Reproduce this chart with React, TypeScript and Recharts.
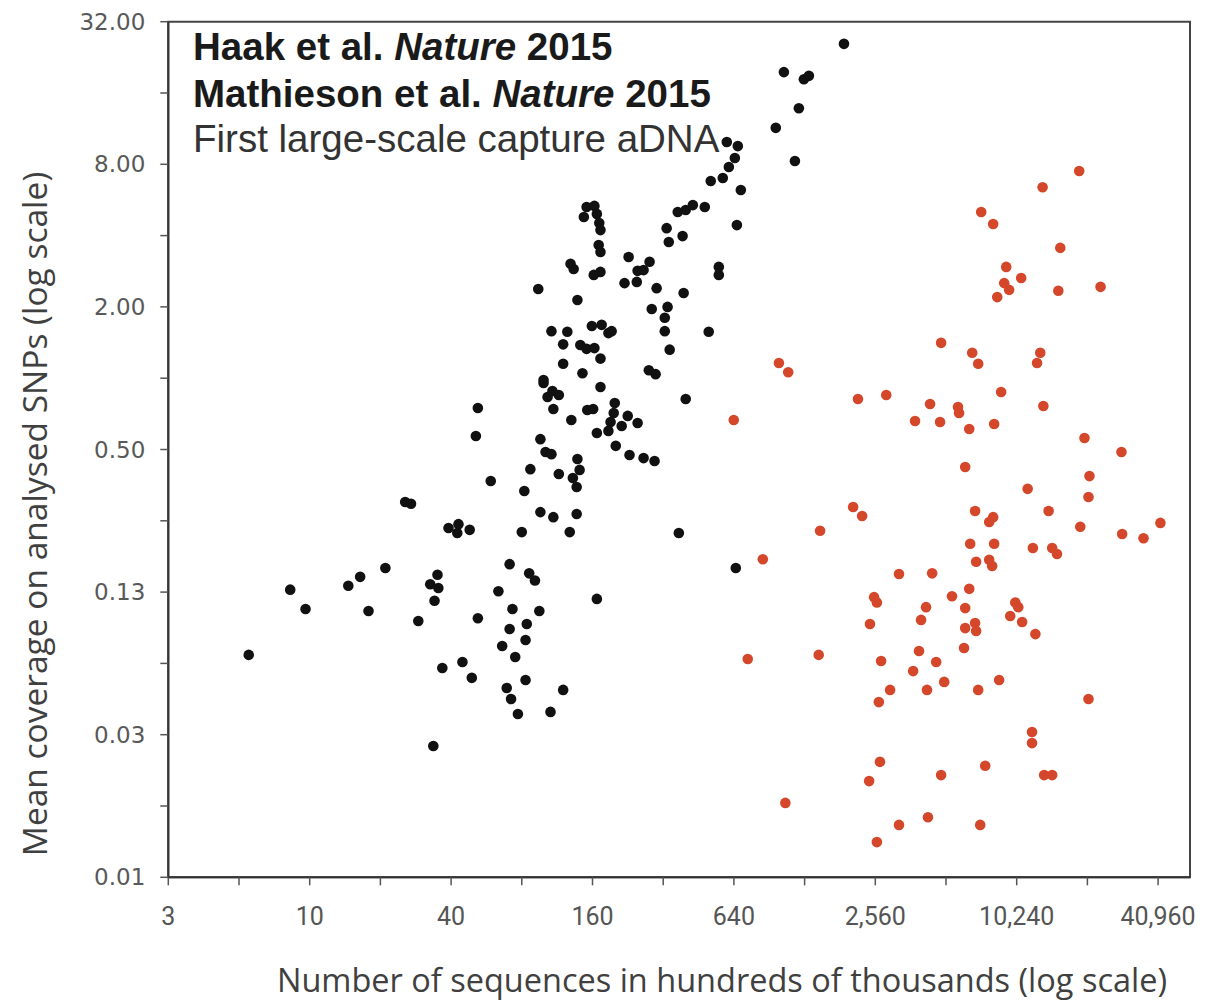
import { ScatterChart, Scatter, XAxis, YAxis, ReferenceArea } from 'recharts';

// sequences (hundreds of thousands), mean coverage
const shotgunPoints: [number, number][] = [
  [1883, 25.8], [1045, 19.6], [1271, 18.3], [1335, 18.9], [1210, 13.8], [965, 11.4],
  [1164, 8.26], [597, 9.94], [665, 9.55], [646, 8.5], [609, 7.79], [574, 7.0],
  [510, 6.8], [685, 6.23], [481, 5.28], [428, 5.38], [399, 5.13], [369, 5.03],
  [659, 4.43], [331, 4.3], [338, 3.76], [387, 3.98], [151, 5.28], [163, 5.34],
  [147, 4.79], [167, 4.94], [171, 4.52], [173, 4.22], [170, 3.65], [173, 3.41],
  [129, 3.04], [133, 2.89], [162, 2.73], [173, 2.81], [228, 3.25], [280, 3.1],
  [249, 2.84], [264, 2.86], [219, 2.52], [247, 2.55], [300, 2.4], [391, 2.29],
  [552, 2.95], [552, 2.73], [94, 2.38], [138, 2.14], [286, 1.96], [334, 2.0],
  [325, 1.8], [325, 1.58], [500, 1.57], [341, 1.32], [107, 1.58], [125, 1.57],
  [159, 1.66], [175, 1.68], [187, 1.55], [193, 1.58], [120, 1.39], [142, 1.38],
  [151, 1.33], [163, 1.34], [173, 1.21], [120, 1.15], [145, 1.05], [99, 0.983],
  [99, 0.955], [108, 0.883], [115, 0.849], [103, 0.833], [109, 0.741], [173, 0.918],
  [130, 0.666], [152, 0.734], [161, 0.741], [199, 0.786], [197, 0.713], [191, 0.653],
  [226, 0.693], [249, 0.647], [213, 0.628], [187, 0.599], [167, 0.587], [278, 1.08],
  [297, 1.04], [399, 0.817], [96, 0.553], [101, 0.488], [107, 0.478], [201, 0.518],
  [230, 0.474], [264, 0.46], [294, 0.447], [87, 0.413], [115, 0.394], [138, 0.456],
  [141, 0.41], [132, 0.379], [137, 0.347], [82, 0.334], [96, 0.272], [109, 0.259],
  [137, 0.267], [80, 0.224], [128, 0.224], [373, 0.222], [71, 0.164], [86, 0.15],
  [91, 0.14], [652, 0.158], [52, 0.748], [51, 0.57], [59, 0.368], [25.5, 0.3],
  [27, 0.295], [39, 0.233], [43, 0.242], [42.5, 0.222], [48, 0.229], [21, 0.158],
  [16.4, 0.145], [14.6, 0.133], [8.26, 0.128], [35, 0.148], [32.6, 0.135], [35.3, 0.13],
  [63.6, 0.126], [167, 0.117], [73, 0.106], [95, 0.104], [84, 0.0917], [71, 0.0873],
  [83, 0.0785], [66, 0.074], [75, 0.0665], [83, 0.0532], [69, 0.0492], [72, 0.0442],
  [120, 0.0483], [77, 0.0382], [106, 0.039], [9.6, 0.106], [17.8, 0.104], [34, 0.115],
  [29, 0.0944], [52, 0.097], [5.5, 0.0679], [44.7, 0.0634], [36.7, 0.0598], [49, 0.0543],
  [33.6, 0.028],
];

const capturePoints: [number, number][] = [
  [18900, 7.5], [13200, 6.4], [7230, 5.03], [8130, 4.48], [15700, 3.55], [9240, 2.95],
  [10700, 2.65], [9060, 2.52], [9510, 2.36], [8460, 2.2], [15400, 2.34], [23300, 2.43],
  [995, 1.16], [1090, 1.06], [639, 0.666], [1490, 0.227], [850, 0.172],
  [4880, 1.41], [6620, 1.28], [7020, 1.15], [12900, 1.28], [12500, 1.16], [8790, 0.874],
  [2160, 0.817], [2850, 0.849], [4380, 0.778], [5760, 0.756], [5820, 0.713], [13300, 0.763],
  [3780, 0.66], [4830, 0.653], [6430, 0.61], [8210, 0.641], [19900, 0.559], [28600, 0.488],
  [6180, 0.422], [20900, 0.386], [11400, 0.341], [20700, 0.315], [2060, 0.286], [2250, 0.262],
  [6810, 0.275], [8130, 0.259], [7820, 0.247], [14000, 0.275], [19100, 0.236], [41900, 0.245],
  [28800, 0.22], [35500, 0.211], [6490, 0.2], [8210, 0.2], [12000, 0.192], [14500, 0.192],
  [15200, 0.181], [6880, 0.168], [7820, 0.171], [8050, 0.161], [3230, 0.149], [4470, 0.15],
  [6430, 0.129], [2530, 0.119], [2600, 0.113], [5430, 0.12], [4210, 0.108], [6180, 0.107],
  [10100, 0.113], [10400, 0.108], [2430, 0.0917], [4010, 0.0954], [6180, 0.0881], [6810, 0.0926],
  [6880, 0.0856], [9610, 0.0991], [10800, 0.0935], [12300, 0.0831], [3930, 0.0705], [6110, 0.0726],
  [2710, 0.064], [4650, 0.0634], [3710, 0.058], [2960, 0.0483], [2650, 0.0429], [4250, 0.0483],
  [5030, 0.0522], [7020, 0.0483], [8620, 0.0532], [20700, 0.0442], [11900, 0.0321], [11900, 0.0288],
  [2680, 0.024], [2410, 0.0199], [4880, 0.0211], [7520, 0.0231], [13400, 0.0211], [14500, 0.0211],
  [3230, 0.013], [4290, 0.014], [7160, 0.013], [2600, 0.011], [733, 0.0652], [1470, 0.0679],
  [1060, 0.0161],
];

const xTicks = [2.5, 5, 10, 20, 40, 80, 160, 320, 640, 1280, 2560, 5120, 10240, 20480, 40960];
const xTickLabels = ['3', '', '10', '', '40', '', '160', '', '640', '', '2,560', '', '10,240', '', '40,960'];
const yTicks = [0.0078125, 0.015625, 0.03125, 0.0625, 0.125, 0.25, 0.5, 1, 2, 4, 8, 16, 32];
const yTickLabels = ['0.01', '', '0.03', '', '0.13', '', '0.50', '', '2.00', '', '8.00', '', '32.00'];

const X_DOMAIN: [number, number] = [2.5, 56000];
const Y_DOMAIN: [number, number] = [0.0078125, 32];

const BLACK = '#111111';
const RED = '#d5472b';

const toRows = (pts: [number, number][]) => pts.map(([x, y]) => ({ x, y }));

const dot = (color: string) => (props: any) => (
  <circle cx={props.cx} cy={props.cy} r={5.3} fill={color} />
);

export default function App() {
  return (
    <div style={{ position: 'absolute', left: 0, top: 0, width: 1205, height: 1005, background: '#fff' }}>
      <ScatterChart
        width={1205}
        height={1005}
        margin={{ top: 21.7, right: 15, bottom: 67.7, left: 8.3 }}
      >
        <XAxis
          type="number"
          dataKey="x"
          scale="log"
          domain={X_DOMAIN}
          allowDataOverflow
          ticks={xTicks}
          interval={0}
          tickFormatter={(v: number) => xTickLabels[xTicks.indexOf(v)] ?? ''}
          height={60}
          tickSize={8}
          tickMargin={22}
          axisLine={{ stroke: '#333', strokeWidth: 2 }}
          tickLine={{ stroke: '#555', strokeWidth: 1.5 }}
          tick={{ fill: '#555', fontSize: 25, fontFamily: 'Roboto, sans-serif' }}
        />
        <YAxis
          type="number"
          dataKey="y"
          scale="log"
          domain={Y_DOMAIN}
          allowDataOverflow
          ticks={yTicks}
          interval={0}
          tickFormatter={(v: number) => yTickLabels[yTicks.indexOf(v)] ?? ''}
          width={160}
          tickSize={8}
          tickMargin={15}
          axisLine={{ stroke: '#333', strokeWidth: 2 }}
          tickLine={{ stroke: '#555', strokeWidth: 1.5 }}
          tick={{ fill: '#595959', fontSize: 23, fontFamily: '"DejaVu Sans", sans-serif' }}
        />
        <ReferenceArea
          x1={X_DOMAIN[0]}
          x2={X_DOMAIN[1]}
          y1={Y_DOMAIN[0]}
          y2={Y_DOMAIN[1]}
          fill="none"
          stroke="#444"
          strokeWidth={2}
          ifOverflow="visible"
        />
        <Scatter data={toRows(shotgunPoints)} fill={BLACK} shape={dot(BLACK)} isAnimationActive={false} />
        <Scatter data={toRows(capturePoints)} fill={RED} shape={dot(RED)} isAnimationActive={false} />
      </ScatterChart>
      <svg
        width={1205}
        height={1005}
        style={{ position: 'absolute', left: 0, top: 0, pointerEvents: 'none' }}
      >
        <g fontFamily='"Liberation Sans", Arial, sans-serif' fontSize={38.5}>
          <text x={193} y={60} fontWeight="bold" fill="#1a1a1a">
            Haak et al. <tspan fontStyle="italic">Nature</tspan> 2015
          </text>
          <text x={193} y={107} fontWeight="bold" fill="#1a1a1a">
            Mathieson et al. <tspan fontStyle="italic">Nature</tspan> 2015
          </text>
          <text x={193} y={152} fill="#333">
            First large-scale capture aDNA
          </text>
        </g>
        <text
          x={722}
          y={992}
          textAnchor="middle"
          fontFamily='"Open Sans", sans-serif'
          fontSize={32.5}
          fill="#404040"
        >
          Number of sequences in hundreds of thousands (log scale)
        </text>
        <text
          transform="translate(47, 514) rotate(-90)"
          textAnchor="middle"
          fontFamily='"Open Sans", sans-serif'
          fontSize={33.5}
          fill="#404040"
        >
          Mean coverage on analysed SNPs (log scale)
        </text>
      </svg>
    </div>
  );
}
